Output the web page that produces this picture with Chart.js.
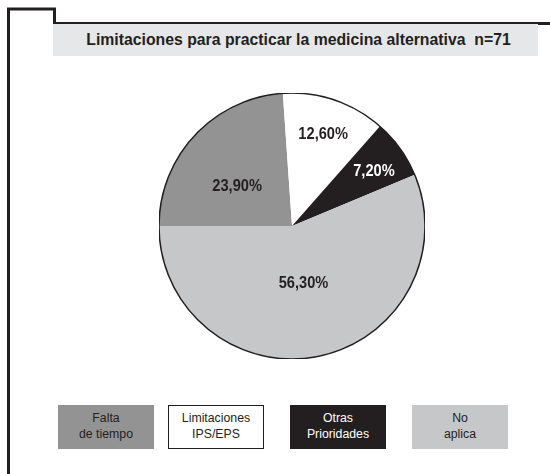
<!DOCTYPE html>
<html>
<head>
<meta charset="utf-8">
<script src="https://cdn.jsdelivr.net/npm/chart.js@4.4.1/dist/chart.umd.min.js"></script>
<style>
  html, body { margin: 0; padding: 0; background: #fff; }
  body { width: 550px; height: 474px; position: relative; overflow: hidden; font-family: "Liberation Sans", Arial, sans-serif; }
  #frame { position: absolute; left: 0; top: 0; }
  #title {
    position: absolute; left: 53px; top: 24px; width: 485px; height: 32px;
    background: #e6e7e8; color: #231f20; font-weight: bold; font-size: 15.8px;
    line-height: 32px; text-align: center; white-space: pre; text-indent: 6px;
  }
  #pieBox { position: absolute; left: 159px; top: 93px; width: 266px; height: 266px; }
  #legend .item {
    position: absolute; top: 405px; width: 96px; height: 44px; box-sizing: border-box;
    font-size: 12.3px; line-height: 16px; text-align: center; padding-top: 5px; color: #231f20;
  }
  #legend .item:nth-child(1) { left: 58px; }
  #legend .item:nth-child(2) { left: 168px; border: 1px solid #231f20; padding-top: 4px; }
  #legend .item:nth-child(3) { left: 290px; color: #fff; }
  #legend .item:nth-child(4) { left: 412px; }
</style>
</head>
<body>
<svg id="frame" width="550" height="474">
  <polyline points="8.5,474 8.5,9 54.5,9 54.5,23.5 550,23.5" fill="none" stroke="#231f20" stroke-width="3"/>
</svg>
<div id="title"></div>
<div id="pieBox"><canvas id="pieChart"></canvas></div>
<div id="legend"></div>

<script>
// DATA
const chartTitle = "Limitaciones para practicar la medicina alternativa  n=71";
const categories = ["Falta\nde tiempo", "Limitaciones\nIPS/EPS", "Otras\nPrioridades", "No\naplica"];
const percents = [23.9, 12.6, 7.2, 56.3];
const sliceColors = ["#939393", "#ffffff", "#231f20", "#c6c7c9"];
const labelColors = ["#231f20", "#231f20", "#ffffff", "#231f20"];

document.getElementById("title").textContent = chartTitle;

// LEGEND
function buildLegend() {
  const legend = document.getElementById("legend");
  categories.forEach((cat, idx) => {
    const item = document.createElement("div");
    item.className = "item";
    item.style.background = sliceColors[idx];
    item.innerHTML = cat.split("\n").join("<br>");
    legend.appendChild(item);
  });
}
buildLegend();

// value labels inside slices (radius fraction + small angle nudge in degrees)
const labelRadius = [0.51, 0.73, 0.74, 0.44];
const labelNudge = [-7, 0, 2, 0];
const sliceLabels = {
  id: "sliceLabels",
  afterDatasetsDraw(chart) {
    const ctx = chart.ctx;
    const meta = chart.getDatasetMeta(0);
    // outline of the pie
    const first = meta.data[0];
    ctx.save();
    ctx.beginPath();
    ctx.arc(first.x, first.y, first.outerRadius, 0, Math.PI * 2);
    ctx.lineWidth = 1.5;
    ctx.strokeStyle = "#231f20";
    ctx.stroke();

    ctx.font = "bold 17px 'Liberation Sans', Arial, sans-serif";
    ctx.textAlign = "center";
    ctx.textBaseline = "middle";
    meta.data.forEach((arc, idx) => {
      const mid = (arc.startAngle + arc.endAngle) / 2 + labelNudge[idx] * Math.PI / 180;
      const r = arc.outerRadius * labelRadius[idx];
      const x = arc.x + Math.cos(mid) * r;
      const y = arc.y + Math.sin(mid) * r;
      ctx.save();
      ctx.translate(x, y);
      ctx.scale(0.86, 1); // condensed look
      ctx.fillStyle = labelColors[idx];
      ctx.fillText(percents[idx].toFixed(2).replace(".", ",") + "%", 0, 0);
      ctx.restore();
    });
    ctx.restore();
  },
};

const ctx = document.getElementById("pieChart").getContext("2d");
new Chart(ctx, {
  type: "pie",
  data: {
    labels: categories,
    datasets: [{
      data: percents,
      backgroundColor: sliceColors,
      borderWidth: 0,
    }],
  },
  options: {
    responsive: true,
    maintainAspectRatio: false,
    animation: false,
    rotation: -90,
    layout: { padding: 0 },
    plugins: {
      legend: { display: false },
      tooltip: { enabled: false },
    },
  },
  plugins: [sliceLabels],
});
</script>
</body>
</html>
